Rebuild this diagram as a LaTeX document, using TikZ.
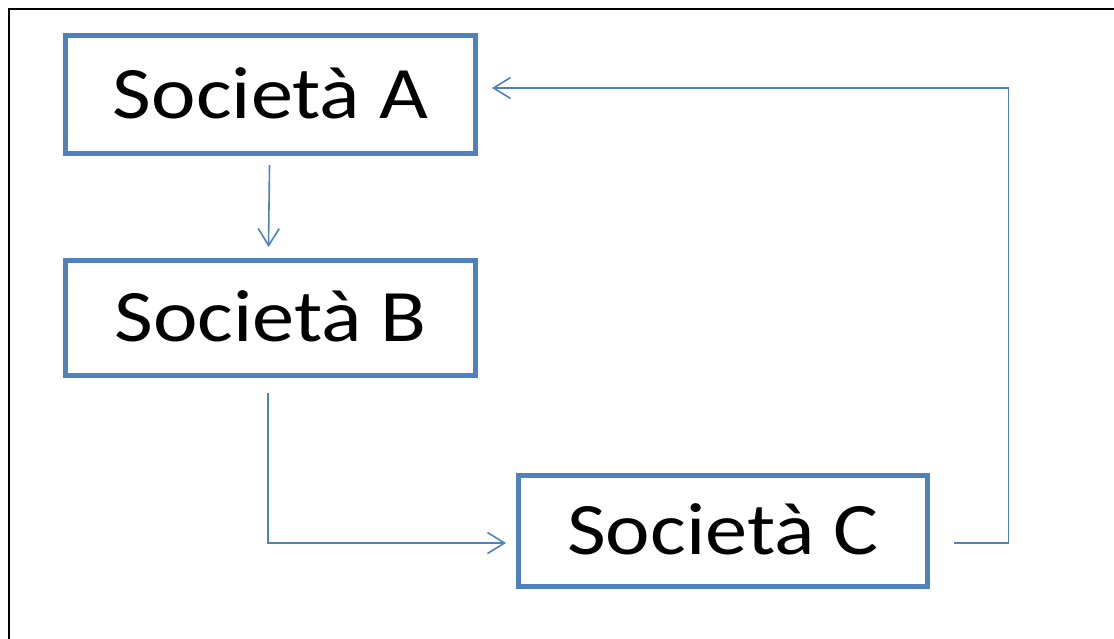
\documentclass[tikz,border=0pt]{standalone}
\usepackage{fontspec}
\setmainfont{Carlito}
\usetikzlibrary{arrows.meta}
\definecolor{obl}{HTML}{4F81BD}
\tikzset{
  company/.style={draw=obl, line width=5.5pt, inner sep=0pt, text height=47pt, text depth=0pt,
    font=\fontsize{74}{80}\selectfont, text=black},
  link/.style={draw=obl, line width=1.6pt, -{Straight Barb[length=17pt,width=21pt,line width=1.6pt]}},
  frame/.style={draw=black, line width=2pt}
}
\newcommand{\wide}[1]{\scalebox{1.14}[1]{#1}}
\begin{document}
\begin{tikzpicture}[x=1pt,y=-1pt]
\useasboundingbox (0,0) rectangle (1114,638);
\draw[frame] (8.5,640) -- (8.5,8.5) -- (1116,8.5);
\node[company, minimum width=410pt, minimum height=118pt] (A) at (270.5,94.5) {\wide{Società A}};
\node[company, minimum width=410pt, minimum height=115pt] (B) at (270.5,318) {\wide{Società B}};
\node[company, minimum width=409pt, minimum height=111pt] (C) at (723,531) {\wide{Società C}};
\coordinate (a1) at (269.5,165);
\coordinate (a2) at (268.5,247);
\coordinate (b1) at (268,393);
\coordinate (b2) at (268,543);
\coordinate (b3) at (506,543);
\coordinate (c1) at (954,543);
\coordinate (c2) at (1008.5,543);
\coordinate (c3) at (1008.5,88);
\coordinate (c4) at (492,88);
\draw[link] (a1) -- (a2);
\draw[link] (b1) -- (b2) -- (b3);
\draw[link] (c1) -- (c2) -- (c3) -- (c4);
\end{tikzpicture}
\end{document}
